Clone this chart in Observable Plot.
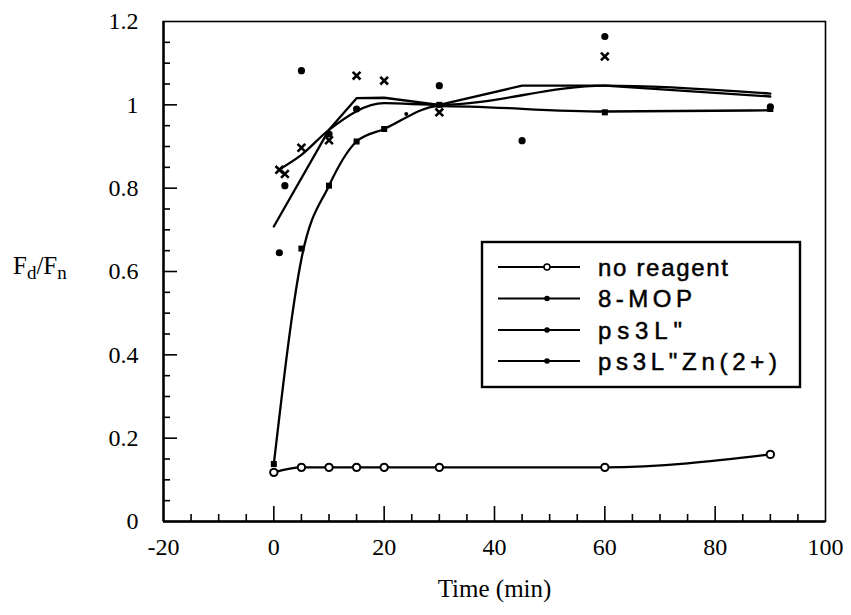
<!DOCTYPE html>
<html><head><meta charset="utf-8">
<script src="https://cdn.jsdelivr.net/npm/d3@7"></script>
<script src="https://cdn.jsdelivr.net/npm/@observablehq/plot@0.6"></script>
<style>body{margin:0;background:#fff}#chart{width:851px;height:615px}</style>
</head><body><div id="chart"></div>
<script>
// ---- tick positions / labels ----
const xMajor = [-20, 0, 20, 40, 60, 80, 100];
const xMinor = [-15, -10, -5, 5, 10, 15, 25, 30, 35, 45, 50, 55, 65, 70, 75, 85, 90, 95];
const yMajor = [0, 0.2, 0.4, 0.6, 0.8, 1, 1.2];
const yMinor = [0.05, 0.1, 0.15, 0.25, 0.3, 0.35, 0.45, 0.5, 0.55, 0.65, 0.7, 0.75, 0.85, 0.9, 0.95, 1.05, 1.1, 1.15];

// ---- series ----
const legendNames = ["no reagent", "8-MOP", "ps3L\"", "ps3L\"Zn(2+)"];

// no reagent (open circles, smooth line)
const noReagentT = [0, 5, 10, 15, 20, 30, 60, 90];
const noReagentV = [0.118, 0.13, 0.13, 0.13, 0.13, 0.13, 0.13, 0.161];

// 8-MOP (squares, smooth line)
const mopT = [0, 5, 10, 15, 20, 30, 60, 90];
const mopLineV = [0.138, 0.63, 0.806, 0.912, 0.942, 0.997, 0.984, 0.987];
const mopPointV = [0.138, 0.655, 0.806, 0.912, 0.942, 1.0, 0.982, 0.99];

// ps3L" line
const ps3LT = [0, 10, 15, 20, 30, 45, 60, 90];
const ps3LV = [0.708, 0.94, 1.016, 1.017, 1.0, 1.046, 1.046, 1.02];
// ps3L" data points (filled circles)
const ps3LPtT = [1, 2, 5, 10, 15, 30, 45, 60, 90];
const ps3LPtV = [0.645, 0.806, 1.082, 0.93, 0.99, 1.046, 0.914, 1.164, 0.995];
const smallDotT = [24];
const smallDotV = [0.978];

// ps3L"Zn(2+) line
const znT = [1, 5, 10, 20, 30, 60, 90];
const znV = [0.845, 0.88, 0.94, 1.004, 1.0, 1.046, 1.027];
// ps3L"Zn(2+) data points (crosses)
const znPtT = [1, 2, 5, 10, 15, 20, 30, 60];
const znPtV = [0.844, 0.834, 0.897, 0.915, 1.07, 1.058, 0.982, 1.116];

const rows = (t, v) => t.map((d, i) => ({t: d, v: v[i]}));

const W = 851, H = 615, mL = 163, mR = 26, mT = 21, mB = 94;
const innerW = W - mL - mR, innerH = H - mT - mB;
const LW = 2.3;

const plot = Plot.plot({
  width: W, height: H,
  marginLeft: mL, marginRight: mR, marginTop: mT, marginBottom: mB,
  style: {fontFamily: "Liberation Serif", fontSize: "24px", background: "white", color: "black"},
  x: {domain: [-20, 100]},
  y: {domain: [0, 1.2]},
  marks: [
    Plot.frame({stroke: "black", strokeWidth: 1.6}),
    Plot.ruleX([-20], {stroke: "black", strokeWidth: 2.4}),
    Plot.ruleY([0], {stroke: "black", strokeWidth: 2.4}),
    Plot.ruleX(xMinor, {stroke: "black", strokeWidth: 1.6, insetTop: innerH - 7}),
    Plot.ruleX(xMajor.slice(1, -1), {stroke: "black", strokeWidth: 1.6, insetTop: innerH - 15}),
    Plot.ruleY(yMinor, {stroke: "black", strokeWidth: 1.6, insetRight: innerW - 7}),
    Plot.ruleY(yMajor.slice(1, -1), {stroke: "black", strokeWidth: 1.6, insetRight: innerW - 14}),
    Plot.axisX({ticks: xMajor, tickSize: 0, tickPadding: 16, tickFormat: d => String(d), fontSize: 24, label: null}),
    Plot.axisY({ticks: yMajor, tickSize: 0, tickPadding: 25, tickFormat: d => String(d), fontSize: 24, label: null}),
    Plot.text(["Time (min)"], {frameAnchor: "bottom", dy: 67, fontSize: 25, lineAnchor: "middle"}),

    Plot.line(rows(noReagentT, noReagentV), {x: "t", y: "v", curve: "monotone-x", stroke: "black", strokeWidth: LW}),
    Plot.line(rows(mopT, mopLineV), {x: "t", y: "v", curve: "monotone-x", stroke: "black", strokeWidth: LW}),
    Plot.line(rows(ps3LT, ps3LV), {x: "t", y: "v", stroke: "black", strokeWidth: LW}),
    Plot.line(rows(znT, znV), {x: "t", y: "v", curve: "monotone-x", stroke: "black", strokeWidth: LW}),

    Plot.dot(rows(mopT, mopPointV), {x: "t", y: "v", symbol: "square", r: 3.4, fill: "black"}),
    Plot.dot(rows(ps3LPtT, ps3LPtV), {x: "t", y: "v", r: 3.6, fill: "black"}),
    Plot.dot(rows(smallDotT, smallDotV), {x: "t", y: "v", r: 2, fill: "black"}),
    Plot.dot(rows(znPtT, znPtV), {x: "t", y: "v", symbol: "times", r: 3.6, stroke: "black", strokeWidth: 2.6}),
    Plot.dot(rows(noReagentT, noReagentV), {x: "t", y: "v", r: 3.7, fill: "white", stroke: "black", strokeWidth: 2})
  ]
});

const svg = d3.select(plot);

// y-axis title F_d/F_n
const yl = svg.append("text")
  .attr("x", 13).attr("y", 274).attr("text-anchor", "start")
  .attr("font-family", "Liberation Serif").attr("font-size", 25).attr("fill", "black");
yl.append("tspan").text("F");
yl.append("tspan").attr("dy", 5).attr("font-size", 19).text("d");
yl.append("tspan").attr("dy", -5).text("/F");
yl.append("tspan").attr("dy", 5).attr("font-size", 19).text("n");

// legend
const legendTextWidths = [130, 94, 84, 179];
const lg = svg.append("g");
const lx = 482, ly = 242, lw = 318, lh = 145;
lg.append("rect").attr("x", lx).attr("y", ly).attr("width", lw).attr("height", lh)
  .attr("fill", "white").attr("stroke", "black").attr("stroke-width", 2.4);
const rowY = [267, 298.5, 330, 361];
legendNames.forEach((name, i) => {
  const y = rowY[i];
  lg.append("line").attr("x1", 498).attr("x2", 580).attr("y1", y).attr("y2", y)
    .attr("stroke", "black").attr("stroke-width", 1.8);
  if (i === 0) {
    lg.append("circle").attr("cx", 547).attr("cy", y).attr("r", 3)
      .attr("fill", "white").attr("stroke", "black").attr("stroke-width", 1.6);
  } else {
    lg.append("circle").attr("cx", 547).attr("cy", y).attr("r", 2.8).attr("fill", "black");
  }
  lg.append("text").attr("x", 598).attr("y", y).attr("dy", "0.36em").attr("text-anchor", "start")
    .attr("font-family", "Liberation Sans").attr("font-size", 24)
    .attr("textLength", legendTextWidths[i]).attr("lengthAdjust", "spacing")
    .attr("stroke", "black").attr("stroke-width", 0.5)
    .attr("fill", "black").text(name);
});

document.getElementById("chart").appendChild(plot);
</script>
</body></html>
